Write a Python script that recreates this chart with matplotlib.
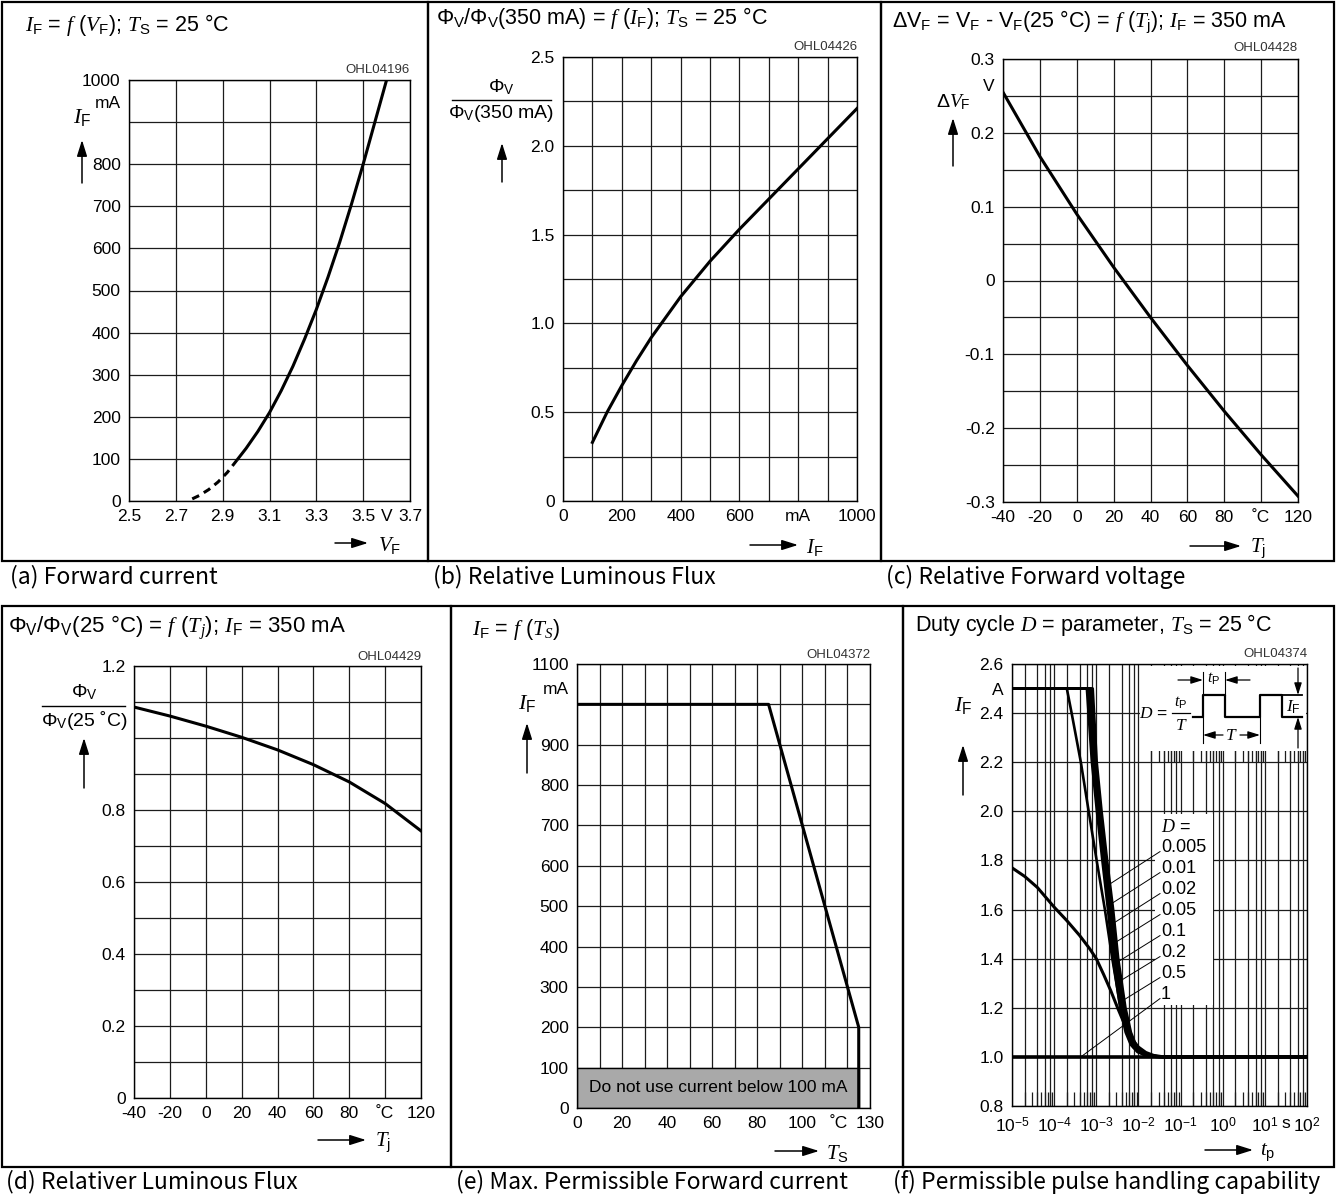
import numpy as np
import matplotlib
matplotlib.use('Agg')
import matplotlib.pyplot as plt
from matplotlib.patches import Rectangle, FancyArrowPatch
from matplotlib.lines import Line2D

plt.rcParams['font.family'] = ['Liberation Sans', 'DejaVu Sans']
plt.rcParams['mathtext.fontset'] = 'custom'
plt.rcParams['mathtext.rm'] = 'Liberation Sans'
plt.rcParams['mathtext.it'] = 'Liberation Serif:italic'
plt.rcParams['mathtext.bf'] = 'Liberation Sans:bold'
plt.rcParams['mathtext.sf'] = 'Liberation Sans'

# ---------------- data ----------------
# (a) forward current vs forward voltage
vf_dashed = [2.77, 2.80, 2.84, 2.88, 2.92, 2.965]
if_dashed = [5, 13, 27, 45, 68, 100]
vf_solid = [2.965, 3.0, 3.05, 3.1, 3.15, 3.2, 3.25, 3.3, 3.35, 3.4, 3.45, 3.5, 3.55, 3.6]
if_solid = [100, 125, 165, 210, 262, 320, 385, 455, 532, 615, 705, 800, 900, 1000]
a_xticks = [2.5, 2.7, 2.9, 3.1, 3.3, 3.5, 3.7]
a_xlabels = ['2.5', '2.7', '2.9', '3.1', '3.3', '3.5', '3.7']
a_yticks = [0, 100, 200, 300, 400, 500, 600, 700, 800, 900, 1000]
a_ylabels = ['0', '100', '200', '300', '400', '500', '600', '700', '800', '', '1000']

# (b) relative luminous flux vs forward current
if_b = [100, 150, 200, 250, 300, 400, 500, 600, 700, 800, 900, 1000]
flux_b = [0.33, 0.50, 0.65, 0.79, 0.92, 1.15, 1.35, 1.53, 1.70, 1.87, 2.04, 2.21]
b_xticks = [0, 100, 200, 300, 400, 500, 600, 700, 800, 900, 1000]
b_xlabels = ['0', '', '200', '', '400', '', '600', '', 'mA', '', '1000']
b_yticks = [0, 0.25, 0.5, 0.75, 1.0, 1.25, 1.5, 1.75, 2.0, 2.25, 2.5]
b_ylabels = ['0', '', '0.5', '', '1.0', '', '1.5', '', '2.0', '', '2.5']

# (c) relative forward voltage vs junction temperature
tj_c = [-40, -20, 0, 20, 40, 60, 80, 100, 120]
dvf_c = [0.255, 0.168, 0.09, 0.018, -0.05, -0.115, -0.177, -0.236, -0.292]
tj_ticks = [-40, -20, 0, 20, 40, 60, 80, 100, 120]
tj_labels = ['-40', '-20', '0', '20', '40', '60', '80', '˚C', '120']
c_yticks = [-0.3, -0.25, -0.2, -0.15, -0.1, -0.05, 0, 0.05, 0.1, 0.15, 0.2, 0.25, 0.3]
c_ylabels = ['-0.3', '', '-0.2', '', '-0.1', '', '0', '', '0.1', '', '0.2', '', '0.3']

# (d) relative luminous flux vs junction temperature
tj_d = [-40, -20, 0, 20, 40, 60, 80, 100, 120]
flux_d = [1.086, 1.061, 1.033, 1.002, 0.967, 0.926, 0.878, 0.818, 0.742]
d_yticks = [0, 0.1, 0.2, 0.3, 0.4, 0.5, 0.6, 0.7, 0.8, 0.9, 1.0, 1.1, 1.2]
d_ylabels = ['0', '', '0.2', '', '0.4', '', '0.6', '', '0.8', '', '', '', '1.2']

# (e) max. permissible forward current vs solder temperature
ts_e = [0, 85, 125, 125]
if_e = [1000, 1000, 200, 0]
min_current = 100
e_xticks = [0, 10, 20, 30, 40, 50, 60, 70, 80, 90, 100, 110, 120, 130]
e_xlabels = ['0', '', '20', '', '40', '', '60', '', '80', '', '100', '', '', '130']
e_yticks = [0, 100, 200, 300, 400, 500, 600, 700, 800, 900, 1000, 1100]
e_ylabels = ['0', '100', '200', '300', '400', '500', '600', '700', '800', '900', '', '1100']

# (f) permissible pulse handling capability
duty = ['0.005', '0.01', '0.02', '0.05', '0.1', '0.2', '0.5', '1']
bundle_if = [2.5, 2.5, 2.2, 2.0, 1.8, 1.6, 1.4, 1.2, 1.1, 1.05, 1.02, 1.005, 1.0, 1.0]
bundle_tp = {
    '0.1':   [1e-5, 6.0e-4, 7.9e-4, 1.04e-3, 1.40e-3, 1.90e-3, 2.5e-3, 3.7e-3, 5.0e-3, 6.6e-3, 9.5e-3, 1.6e-2, 3.0e-2, 1e2],
    '0.05':  [1e-5, 6.4e-4, 8.4e-4, 1.10e-3, 1.50e-3, 2.05e-3, 2.7e-3, 4.0e-3, 5.4e-3, 7.1e-3, 1.0e-2, 1.7e-2, 3.2e-2, 1e2],
    '0.02':  [1e-5, 6.9e-4, 8.9e-4, 1.17e-3, 1.60e-3, 2.20e-3, 2.9e-3, 4.3e-3, 5.8e-3, 7.6e-3, 1.1e-2, 1.8e-2, 3.4e-2, 1e2],
    '0.01':  [1e-5, 7.5e-4, 9.5e-4, 1.25e-3, 1.70e-3, 2.35e-3, 3.1e-3, 4.6e-3, 6.2e-3, 8.1e-3, 1.15e-2, 1.9e-2, 3.6e-2, 1e2],
    '0.005': [1e-5, 8.2e-4, 1.02e-3, 1.33e-3, 1.80e-3, 2.50e-3, 3.3e-3, 4.9e-3, 6.6e-3, 8.6e-3, 1.2e-2, 2.0e-2, 3.8e-2, 1e2],
}
tp_02 = [1e-5, 2.0e-4, 2.6e-4, 4.3e-4, 6.6e-4, 1.02e-3, 1.6e-3, 2.4e-3, 3.6e-3, 5.0e-3, 7.5e-3, 1.3e-2, 2.6e-2, 1e2]
if_02 = [2.5, 2.5, 2.4, 2.2, 2.0, 1.8, 1.6, 1.4, 1.22, 1.11, 1.04, 1.01, 1.0, 1.0]
tp_05 = [1e-5, 2e-5, 4e-5, 1e-4, 2e-4, 4e-4, 7e-4, 1e-3, 1.5e-3, 2.2e-3, 3.2e-3, 4.5e-3,
         6.5e-3, 1e-2, 1.5e-2, 2.3e-2, 4e-2, 1e2]
if_05 = [1.77, 1.735, 1.69, 1.61, 1.555, 1.495, 1.44, 1.40, 1.335, 1.27, 1.20, 1.14,
         1.08, 1.04, 1.018, 1.006, 1.0, 1.0]
if_d1 = 1.0
f_yticks = [0.8, 1.0, 1.2, 1.4, 1.6, 1.8, 2.0, 2.2, 2.4, 2.6]
f_ylabels = ['0.8', '1.0', '1.2', '1.4', '1.6', '1.8', '2.0', '2.2', '2.4', '2.6']
f_exponents = [-5, -4, -3, -2, -1, 0, 1, 2]
leader_tp = [1.93e-3, 2.11e-3, 2.54e-3, 2.78e-3, 3.33e-3, 4.0e-3, 4.8e-3, 4.3e-4]
leader_if = [1.70, 1.62, 1.544, 1.465, 1.388, 1.313, 1.235, 1.0]

# ---------------- figure helpers (pixel layout) ----------------
W, H = 1336, 1199
fig = plt.figure(figsize=(W / 100, H / 100), dpi=100)
GRID = '#1c1c1c'
TFS = 15.5   # title size
TKS = 12.5   # tick label size


def box(l, t, r, b):
    return [l / W, 1 - b / H, (r - l) / W, (b - t) / H]


def ftxt(x, y, s, **kw):
    kw.setdefault('ha', 'center')
    kw.setdefault('va', 'center')
    fig.text(x / W, 1 - y / H, s, **kw)


def farrow(x0, y0, x1, y1, ms=14):
    fig.add_artist(FancyArrowPatch((x0 / W, 1 - y0 / H), (x1 / W, 1 - y1 / H),
                                   transform=fig.transFigure, color='k', lw=1.1,
                                   arrowstyle='-|>,head_length=0.7,head_width=0.22',
                                   mutation_scale=ms, shrinkA=0, shrinkB=0))


def fline(x0, y0, x1, y1, lw=1.0):
    fig.add_artist(Line2D([x0 / W, x1 / W], [1 - y0 / H, 1 - y1 / H],
                          transform=fig.transFigure, color='k', lw=lw))


def style(ax):
    ax.tick_params(which='both', length=0, labelsize=TKS, pad=6)
    for s in ax.spines.values():
        s.set_linewidth(1.0)
    ax.grid(True, which='major', color=GRID, lw=0.9)
    ax.set_axisbelow(True)


# panel frames
for (l, t, r, b) in [(2, 2, 428, 561), (428, 2, 881, 561), (881, 2, 1334, 561),
                     (2, 606, 451, 1167), (451, 606, 903, 1167), (903, 606, 1334, 1167)]:
    fig.add_artist(Rectangle((l / W, 1 - b / H), (r - l) / W, (b - t) / H,
                             transform=fig.transFigure, fill=False, lw=1.6, ec='k'))

cap = dict(ha='left', fontsize=16.5, family=['Noto Sans CJK KR', 'DejaVu Sans'])
ftxt(10, 577, '(a) Forward current', **cap)
ftxt(433, 577, '(b) Relative Luminous Flux', **cap)
ftxt(886, 577, '(c) Relative Forward voltage', **cap)
ftxt(6, 1182, '(d) Relativer Luminous Flux', **cap)
ftxt(456, 1182, '(e) Max. Permissible Forward current', **cap)
ftxt(893, 1182, '(f) Permissible pulse handling capability', **cap)

ohl = dict(ha='right', fontsize=9.5, color='#333333')

# ---------------- (a) ----------------
ax = fig.add_axes(box(129, 80, 410, 501))
style(ax)
ax.plot(vf_dashed, if_dashed, color='k', lw=2.2, ls=(0, (2.5, 1.8)))
ax.plot(vf_solid, if_solid, color='k', lw=2.2)
ax.set_xlim(2.5, 3.7)
ax.set_ylim(0, 1000)
ax.set_xticks(a_xticks, a_xlabels)
ax.set_xticks([3.6], ['V'], minor=True)
ax.set_yticks(a_yticks, a_ylabels)
ftxt(25, 25, r'$I_\mathrm{F}$ = $f$ ($V_\mathrm{F}$); $T_\mathrm{S}$ = 25 °C', ha='left', fontsize=TFS)
ftxt(410, 70, 'OHL04196', **ohl)
ftxt(82, 117, r'$I_\mathrm{F}$', fontsize=16)
ftxt(108, 104, 'mA', fontsize=TKS)
farrow(82, 183, 82, 140)
farrow(335, 543, 368, 543)
ftxt(378, 546, r'$V_\mathrm{F}$', ha='left', fontsize=15)

# ---------------- (b) ----------------
ax = fig.add_axes(box(563, 57, 857, 501))
style(ax)
ax.plot(if_b, flux_b, color='k', lw=2.2)
ax.set_xlim(0, 1000)
ax.set_ylim(0, 2.5)
ax.set_xticks(b_xticks, b_xlabels)
ax.set_yticks(b_yticks, b_ylabels)
ftxt(436, 18, r'Φ$_\mathrm{V}$/Φ$_\mathrm{V}$(350 mA) = $f$ ($I_\mathrm{F}$); $T_\mathrm{S}$ = 25 °C', ha='left', fontsize=TFS)
ftxt(857, 47, 'OHL04426', **ohl)
ftxt(501, 87, r'Φ$_\mathrm{V}$', fontsize=14)
fline(452, 100, 551, 100)
ftxt(501, 113, r'Φ$_\mathrm{V}$(350 mA)', fontsize=14)
farrow(502, 182, 502, 143)
farrow(750, 545, 798, 545)
ftxt(806, 548, r'$I_\mathrm{F}$', ha='left', fontsize=15)

# ---------------- (c) ----------------
ax = fig.add_axes(box(1003, 59, 1298, 502))
style(ax)
ax.plot(tj_c, dvf_c, color='k', lw=2.2)
ax.set_xlim(-40, 120)
ax.set_ylim(-0.3, 0.3)
ax.set_xticks(tj_ticks, tj_labels)
ax.set_yticks(c_yticks, c_ylabels)
ax.set_yticks([0.265], ['V'], minor=True)
ftxt(892, 22, r'ΔV$_\mathrm{F}$ = V$_\mathrm{F}$ - V$_\mathrm{F}$(25 °C) = $f$ ($T_\mathrm{j}$); $I_\mathrm{F}$ = 350 mA',
     ha='left', fontsize=TFS)
ftxt(1298, 48, 'OHL04428', **ohl)
ftxt(953, 102, r'Δ$V_\mathrm{F}$', fontsize=14)
farrow(953, 166, 953, 118)
farrow(1190, 546, 1241, 546)
ftxt(1250, 549, r'$T_\mathrm{j}$', ha='left', fontsize=15)

# ---------------- (d) ----------------
ax = fig.add_axes(box(134, 666, 421, 1098))
style(ax)
ax.plot(tj_d, flux_d, color='k', lw=2.2)
ax.set_xlim(-40, 120)
ax.set_ylim(0, 1.2)
ax.set_xticks(tj_ticks, tj_labels)
ax.set_yticks(d_yticks, d_ylabels)
ftxt(8, 628, r'Φ$_\mathrm{V}$/Φ$_\mathrm{V}$(25 °C) = $f$ ($T_j$); $I_\mathrm{F}$ = 350 mA', ha='left', fontsize=16)
ftxt(421, 657, 'OHL04429', **ohl)
ftxt(84, 692, r'Φ$_\mathrm{V}$', fontsize=14)
fline(42, 706, 125, 706)
ftxt(84, 720, r'Φ$_\mathrm{V}$(25 ˚C)', fontsize=14)
farrow(84, 788, 84, 738)
farrow(318, 1140, 366, 1140)
ftxt(375, 1143, r'$T_\mathrm{j}$', ha='left', fontsize=15)

# ---------------- (e) ----------------
ax = fig.add_axes(box(577, 664, 870, 1108))
style(ax)
ax.add_patch(Rectangle((0, 0), ts_e[-1], min_current, fc='#a9a9a9', ec='k', lw=1.0, zorder=2))
ax.text(ts_e[-1] / 2, min_current / 2, 'Do not use current below 100 mA', ha='center', va='center',
        fontsize=12.5, zorder=3)
ax.plot(ts_e, if_e, color='k', lw=2.2, zorder=4)
ax.set_xlim(0, 130)
ax.set_ylim(0, 1100)
ax.set_xticks(e_xticks, e_xlabels)
ax.set_xticks([116], ['˚C'], minor=True)
ax.set_yticks(e_yticks, e_ylabels)
ftxt(472, 630, r'$I_\mathrm{F}$ = $f$ ($T_S$)', ha='left', fontsize=TFS)
ftxt(870, 655, 'OHL04372', **ohl)
ftxt(527, 703, r'$I_\mathrm{F}$', fontsize=16)
ftxt(556, 690, 'mA', fontsize=TKS)
farrow(527, 773, 527, 723)
farrow(775, 1151, 819, 1151)
ftxt(826, 1154, r'$T_\mathrm{S}$', ha='left', fontsize=15)

# ---------------- (f) ----------------
ax = fig.add_axes(box(1012, 664, 1307, 1106))
style(ax)
ax.set_xscale('log')
ax.set_xlim(1e-5, 1e2)
ax.set_ylim(0.8, 2.6)
decades = [10.0 ** e for e in f_exponents]
ax.set_xticks(decades, [rf'$10^{{{e}}}$' for e in f_exponents])
ax.set_xticks([10 ** 1.5], ['s'], minor=True)
ax.set_yticks(f_yticks, f_ylabels)
ax.set_yticks([2.5], ['A'], minor=True)
ax.tick_params(axis='x', which='both', pad=7)

full = [m * d for d in decades[:-1] for m in (2, 4, 6, 8)]
ax.vlines(full, 0.8, 2.6, color=GRID, lw=0.9, zorder=0.6)
short = [m * d for d in decades[:-1] for m in range(2, 10)]
ax.vlines(short, 0.8, 0.855, color=GRID, lw=0.9, zorder=0.6)
ax.vlines([s for s in short if s > 1e-2], 2.2, 2.25, color=GRID, lw=0.9, zorder=0.6)

# white area behind the D labels
ax.add_patch(Rectangle((0.025, 1.21), 0.59 - 0.025, 0.78, fc='white', ec='none', zorder=1.5))

ax.axhline(if_d1, color='k', lw=2.6, zorder=3)
ax.plot(tp_05, if_05, color='k', lw=2.2, zorder=3)
ax.plot(tp_02, if_02, color='k', lw=1.9, zorder=3)
for d in ['0.1', '0.05', '0.02', '0.01', '0.005']:
    ax.plot(bundle_tp[d], bundle_if, color='k', lw=2.0, zorder=3)

lab_y0 = 1.851
ax.text(0.034, 1.936, r'$D$ =', ha='left', va='center', fontsize=13, zorder=4)
for i, d in enumerate(duty):
    y = lab_y0 - i * 0.0855
    ax.text(0.034, y, d, ha='left', va='center', fontsize=13, zorder=4)
    ax.plot([0.0325, leader_tp[i]], [y - 0.015, leader_if[i]], color='k', lw=0.7, zorder=4)

ftxt(915, 625, r'Duty cycle $D$ = parameter, $T_\mathrm{S}$ = 25 °C', ha='left', fontsize=TFS)
ftxt(1307, 654, 'OHL04374', **ohl)
ftxt(963, 705, r'$I_\mathrm{F}$', fontsize=16)
farrow(963, 795, 963, 745)
farrow(1205, 1150, 1253, 1150)
ftxt(1260, 1153, r'$t_\mathrm{p}$', ha='left', fontsize=15)

# inset: duty cycle sketch (drawn in its own pixel frame)
axi = fig.add_axes(box(1140, 665.5, 1306, 751))
axi.set_xlim(1140, 1306)
axi.set_ylim(751, 665.5)
axi.set_xticks([])
axi.set_yticks([])
for s in axi.spines.values():
    s.set_visible(False)
axi.set_facecolor('white')
axi.plot([1193, 1203, 1203, 1225, 1225, 1260, 1260, 1282, 1282, 1302],
         [717, 717, 695, 695, 717, 717, 695, 695, 717, 717], color='k', lw=1.6)
axi.plot([1282, 1302], [695, 695], color='k', lw=1.3)
for x in (1203, 1225):
    axi.plot([x, x], [695, 672], color='k', lw=0.8)
for x in (1203, 1260):
    axi.plot([x, x], [717, 743], color='k', lw=0.8)
am = dict(arrowstyle='-|>,head_length=0.8,head_width=0.25', color='k', lw=0.9, mutation_scale=9,
          shrinkA=0, shrinkB=0)
axi.annotate('', xy=(1203, 680), xytext=(1178, 680), arrowprops=am)
axi.annotate('', xy=(1225, 680), xytext=(1250, 680), arrowprops=am)
axi.annotate('', xy=(1203, 735), xytext=(1223, 735), arrowprops=am)
axi.annotate('', xy=(1260, 735), xytext=(1240, 735), arrowprops=am)
axi.annotate('', xy=(1298, 695), xytext=(1298, 668), arrowprops=am)
axi.annotate('', xy=(1298, 717), xytext=(1298, 748), arrowprops=am)
axi.text(1214, 679, r'$t_\mathrm{P}$', ha='center', va='center', fontsize=11.5)
axi.text(1231, 735, r'$T$', ha='center', va='center', fontsize=12.5)
axi.text(1293, 707, r'$I_\mathrm{F}$', ha='center', va='center', fontsize=12.5)
axi.text(1168, 713, r'$D$ =', ha='right', va='center', fontsize=12.5)
axi.text(1181, 703, r'$t_\mathrm{P}$', ha='center', va='center', fontsize=11.5)
axi.plot([1172, 1190], [713, 713], color='k', lw=0.9)
axi.text(1181, 725, r'$T$', ha='center', va='center', fontsize=12.5)

fig.savefig('out.png', dpi=100)
